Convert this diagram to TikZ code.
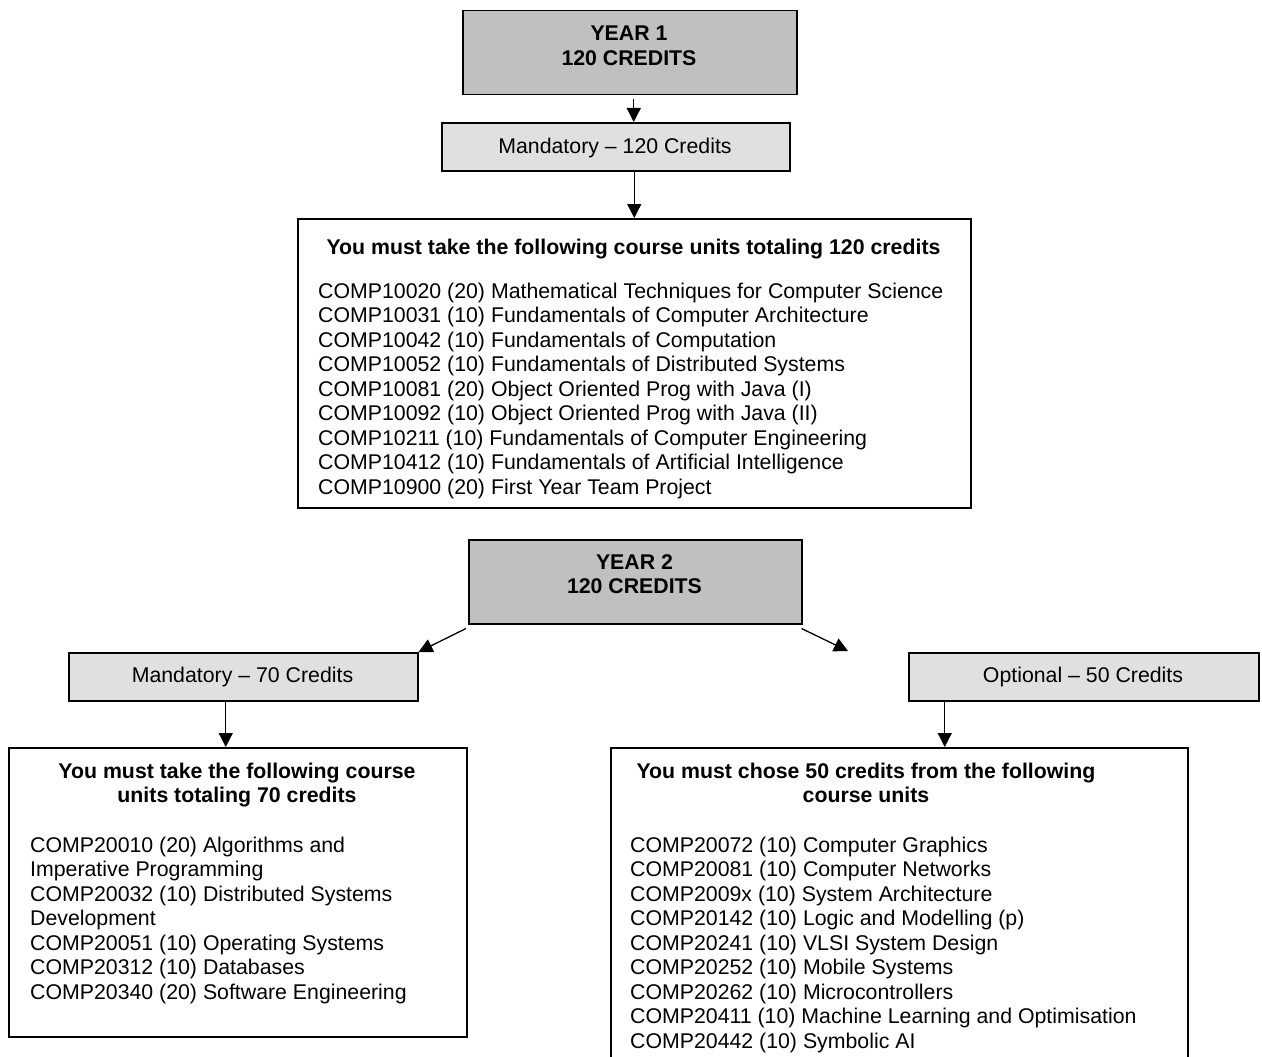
\documentclass[tikz,border=0pt]{standalone}
\usepackage{fontspec}
\setmainfont{Liberation Sans}
\usetikzlibrary{arrows.meta}
\definecolor{yfill}{HTML}{C0C0C0}
\definecolor{mfill}{HTML}{E0E0E0}
\begin{document}
\begin{tikzpicture}[x=1pt,y=-1pt,
  frame/.style={draw=black,line width=1.5pt,inner sep=0pt,anchor=north west},
  ybox/.style={frame,fill=yfill},
  mbox/.style={frame,fill=mfill},
  lbox/.style={frame,fill=white},
  txt/.style={inner sep=0pt,font=\fontsize{21.3}{24.5}\selectfont},
  btxt/.style={txt,font=\fontsize{21.3}{24.5}\selectfont\bfseries},
  arr/.style={line width=1.3pt,-{Triangle[width=14pt,length=14pt]}}]
\useasboundingbox (0,0) rectangle (1262,1057);
\clip (0,0) rectangle (1262,1057);
\fill[white] (0,0) rectangle (1262,1057);
% Year 1
\node[ybox,minimum width=334pt,minimum height=84pt] (y1) at (462,10) {};
\node[btxt,align=center,anchor=north] (y1t) at (629,23.5) {\strut YEAR 1\\120 CREDITS};
\node[mbox,minimum width=348pt,minimum height=48pt] (m1) at (441,122) {};
\node[txt,anchor=base] (m1t) at (615,153) {Mandatory – 120 Credits};
\node[lbox,minimum width=673pt,minimum height=289pt] (b1) at (297,218) {};
\node[btxt,anchor=base] (b1h) at (633.5,254) {You must take the following course units totaling 120 credits};
\node[txt,align=left,anchor=north west] (b1l) at (318,280.85) {\strut COMP10020 (20) Mathematical Techniques for Computer Science\\
COMP10031 (10) Fundamentals of Computer Architecture\\
COMP10042 (10) Fundamentals of Computation\\
COMP10052 (10) Fundamentals of Distributed Systems\\
COMP10081 (20) Object Oriented Prog with Java (I)\\
COMP10092 (10) Object Oriented Prog with Java (II)\\
COMP10211 (10) Fundamentals of Computer Engineering\\
COMP10412 (10) Fundamentals of Artificial Intelligence\\
COMP10900 (20) First Year Team Project};
% Year 2
\node[ybox,minimum width=333pt,minimum height=84pt] (y2) at (468,539) {};
\node[btxt,align=center,anchor=north] (y2t) at (634.5,551.85) {\strut YEAR 2\\120 CREDITS};
\node[mbox,minimum width=349pt,minimum height=48pt] (m2) at (68,652) {};
\node[txt,anchor=base] (m2t) at (242.5,682) {Mandatory – 70 Credits};
\node[mbox,minimum width=350pt,minimum height=48pt] (o2) at (908,652) {};
\node[txt,anchor=base] (o2t) at (1083,682) {Optional – 50 Credits};
\node[lbox,minimum width=458pt,minimum height=289pt] (b2) at (8,747) {};
\node[btxt,align=center,anchor=north] (b2h) at (237,760.85) {\strut You must take the following course\\units totaling 70 credits};
\node[txt,align=left,anchor=north west] (b2l) at (30,834.85) {\strut COMP20010 (20) Algorithms and\\
Imperative Programming\\
COMP20032 (10) Distributed Systems\\
Development\\
COMP20051 (10) Operating Systems\\
COMP20312 (10) Databases\\
COMP20340 (20) Software Engineering};
\node[lbox,minimum width=577pt,minimum height=340pt] (b3) at (610,747) {};
\node[btxt,align=center,anchor=north] (b3h) at (866,760.85) {\strut You must chose 50 credits from the following\\course units};
\node[txt,align=left,anchor=north west] (b3l) at (630,834.85) {\strut COMP20072 (10) Computer Graphics\\
COMP20081 (10) Computer Networks\\
COMP2009x (10) System Architecture\\
COMP20142 (10) Logic and Modelling (p)\\
COMP20241 (10) VLSI System Design\\
COMP20252 (10) Mobile Systems\\
COMP20262 (10) Microcontrollers\\
COMP20411 (10) Machine Learning and Optimisation\\
COMP20442 (10) Symbolic AI};
% connectors
\draw[arr] ([xshift=4pt,yshift=-4pt]y1.south) -- ([xshift=4pt]y1.south |- m1.north);
\draw[arr] (b1.north |- m1.south) -- (b1.north);
\draw[arr] ([shift={(-2pt,-4pt)}]y2.south west) -- (m2.north east);
\coordinate (rt) at (848,651);
\draw[arr] ([shift={(-1pt,-4pt)}]y2.south east) -- (rt);
\draw[arr] ([xshift=-17.5pt]m2.south) -- ([xshift=-17.5pt]m2.south |- b2.north);
\draw[arr] ([xshift=-139pt]o2.south) -- ([xshift=-139pt]o2.south |- b3.north);
\end{tikzpicture}
\end{document}
